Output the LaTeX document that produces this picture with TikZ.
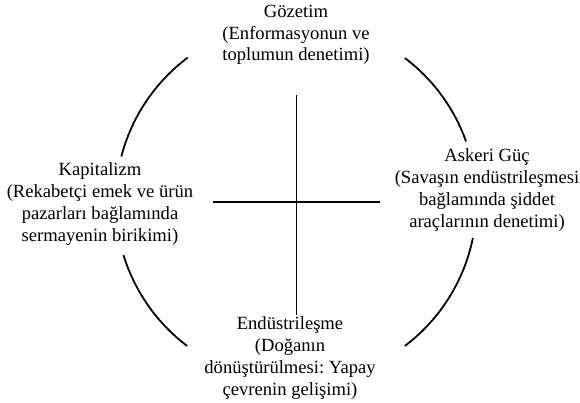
\documentclass[tikz,border=0pt]{standalone}
\usepackage{fontspec}
\setmainfont{Liberation Serif}
\frenchspacing
\begin{document}
\begin{tikzpicture}[x=1pt,y=1pt,
  lbl/.style={align=center,inner sep=0pt,font=\fontsize{18.6}{21.8}\selectfont},
  ln/.style={line width=1.8pt}]
\useasboundingbox (0,0) rectangle (580,403);
\coordinate (O) at (296,201);
\node[lbl] (top) at (296,368) {Gözetim\\(Enformasyonun ve\\toplumun denetimi)};
\node[lbl] (left) at (100,199) {Kapitalizm\\(Rekabetçi emek ve ürün\\pazarları bağlamında\\sermayenin birikimi)};
\node[lbl] (right) at (487,213) {Askeri Güç\\(Savaşın endüstrileşmesi\\bağlamında şiddet\\araçlarının denetimi)};
\node[lbl] (bottom) at (290,45) {Endüstrileşme\\(Doğanın\\dönüştürülmesi: Yapay\\çevrenin gelişimi)};
\coordinate (vt) at (296.5,308);
\coordinate (vb) at (296.5,88);
\coordinate (hl) at (213,201);
\coordinate (hr) at (380,201);
\draw[ln] (vt) -- (vb);
\draw[ln] (hl) -- (hr);
\draw[ln] ([shift={(126.9:180.5)}]O) arc[start angle=126.9,end angle=165.4,radius=180.5];
\draw[ln] ([shift={(52.9:180.5)}]O) arc[start angle=52.9,end angle=19.6,radius=180.5];
\draw[ln] ([shift={(197.1:180.5)}]O) arc[start angle=197.1,end angle=232.9,radius=180.5];
\draw[ln] ([shift={(307.1:180.5)}]O) arc[start angle=307.1,end angle=348.5,radius=180.5];
\end{tikzpicture}
\end{document}
